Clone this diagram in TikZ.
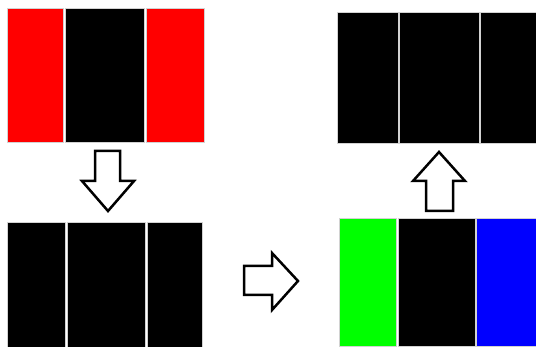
\documentclass[tikz,border=0pt]{standalone}
\usepackage{xcolor}
\usepackage{tikz}
\usetikzlibrary{positioning}

\begin{document}
\begin{tikzpicture}[x=1pt,y=-1pt,strip/.style={draw=gray!35,line width=0.8pt,anchor=north west,inner sep=0pt,outer sep=0pt},
    blockarrow/.style={draw=black,line width=2.5pt,fill=white,line join=miter}]
    \useasboundingbox (0,0) rectangle (536,347);
    % top left: red black red
    \node[strip,fill=red,minimum width=56,minimum height=134] (tlA) at (7,8) {};
    \node[strip,fill=black,minimum width=79,minimum height=134] (tlB) at (65,8) {};
    \node[strip,fill=red,minimum width=58,minimum height=134] (tlC) at (146,8) {};
    % bottom left: all black
    \node[strip,fill=black,minimum width=58,minimum height=126] (blA) at (7,222) {};
    \node[strip,fill=black,minimum width=78,minimum height=126] (blB) at (67,222) {};
    \node[strip,fill=black,minimum width=55,minimum height=126] (blC) at (147,222) {};
    % bottom right: green black blue
    \node[strip,fill=green,minimum width=57,minimum height=128] (brA) at (339,218) {};
    \node[strip,fill=black,minimum width=77,minimum height=128] (brB) at (398,218) {};
    \node[strip,fill=blue,minimum width=61,minimum height=128] (brC) at (476,218) {};
    % top right: all black
    \node[strip,fill=black,minimum width=61,minimum height=131] (trA) at (337,12) {};
    \node[strip,fill=black,minimum width=80,minimum height=131] (trB) at (399,12) {};
    \node[strip,fill=black,minimum width=57,minimum height=131] (trC) at (480,12) {};

    % block arrows
    \draw[blockarrow] (95,151) -- (120,151) -- (120,181) -- (134,181) -- (108,211)
        -- (82,181) -- (95,181) -- cycle;
    \draw[blockarrow] (244,266) -- (272,266) -- (272,253) -- (298,281) -- (272,310)
        -- (272,295) -- (244,295) -- cycle;
    \draw[blockarrow] (426,211) -- (453,211) -- (453,181) -- (465,181) -- (439,152)
        -- (413,181) -- (426,181) -- cycle;
\end{tikzpicture}
\end{document}
